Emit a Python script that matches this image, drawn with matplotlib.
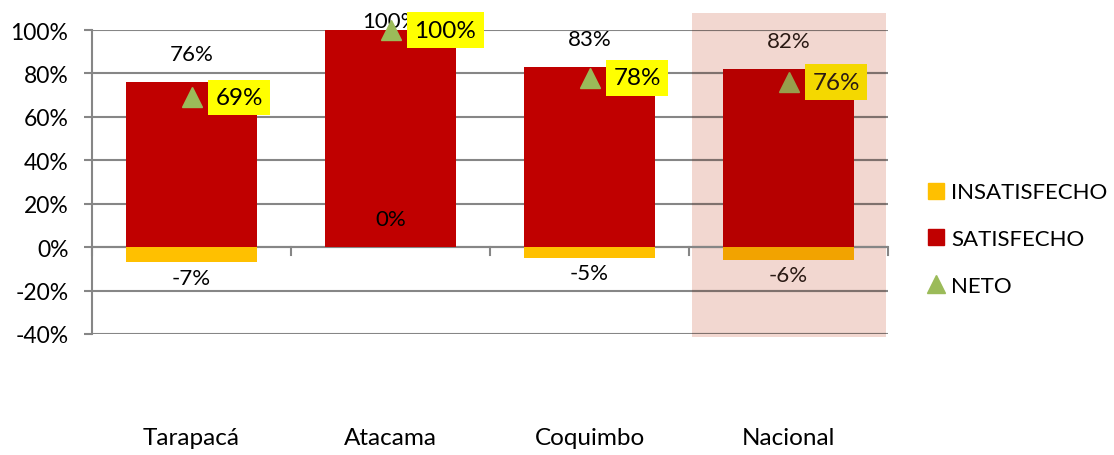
import matplotlib
matplotlib.use("Agg")
import matplotlib.pyplot as plt
from matplotlib.patches import Rectangle
from matplotlib.lines import Line2D

plt.rcParams['font.family'] = ['Lato', 'DejaVu Sans']

categories = ["Tarapacá", "Atacama", "Coquimbo", "Nacional"]
satisfecho = [76, 100, 83, 82]
insatisfecho = [-7, 0, -5, -6]
neto = [69, 100, 78, 76]
yticks = [-40, -20, 0, 20, 40, 60, 80, 100]

RED = "#C00000"
ORANGE = "#FFC000"
GREEN = "#9BBB59"
YELLOW = "#FFFF00"
GRID = "#868686"

# tinted versions used inside the highlighted "Nacional" column
BAND = "#F2D7D0"
RED_T = "#B60000"
ORANGE_T = "#F2A300"
GREEN_T = "#979E4C"
YELLOW_T = "#F4D800"
GRID_T = "#7F716D"
TEXT_T = "#2A1A14"

W, H, DPI = 1114, 456, 100
fig = plt.figure(figsize=(W / DPI, H / DPI), dpi=DPI)
ax = fig.add_axes([92 / W, (H - 335) / H, 796 / W, 304 / H])

x = list(range(len(categories)))
hl = len(categories) - 1  # highlighted column
ax.set_xlim(-0.5, len(categories) - 0.5)
ax.set_ylim(-40, 100)

# highlight band behind the national column
ax.add_patch(Rectangle((2.515, -41.4), 0.975, 149.2, facecolor=BAND,
                       edgecolor='none', zorder=0.1, clip_on=False))

# gridlines and axes
for s in ax.spines.values():
    s.set_visible(False)
ax.spines['left'].set_visible(True)
ax.spines['left'].set_color(GRID)
ax.spines['left'].set_linewidth(1.5)
ax.set_yticks(yticks)
ax.set_yticklabels([f"{v}%" for v in yticks], fontsize=16.5)
ax.tick_params(axis='y', length=6, width=1.5, color=GRID, pad=11)
ax.yaxis.grid(True, color=GRID, linewidth=1.5)
ax.set_axisbelow(True)
ax.hlines(yticks, 2.515, 3.49, color=GRID_T, linewidth=1.5, zorder=0.6)

ax.set_xticks(x)
ax.set_xticklabels(categories, fontsize=17.5)
ax.tick_params(axis='x', length=0, pad=67)

# horizontal axis at zero with category separators
ax.axhline(0, color=GRID, linewidth=1.5, zorder=1)
for b in [-0.5, 0.5, 1.5, 2.5, 3.5]:
    ax.plot([b, b], [0, -3.7], color=GRID, linewidth=1.5, zorder=1, clip_on=False)

bw = 0.66
red_c = [RED_T if i == hl else RED for i in x]
orange_c = [ORANGE_T if i == hl else ORANGE for i in x]
ax.bar(x, satisfecho, width=bw, color=red_c, zorder=2)
ax.bar(x, insatisfecho, width=bw, color=orange_c, zorder=2)

for xi, v in zip(x, satisfecho):
    ax.text(xi, min(v + 12.9, 104), f"{v}%", ha='center', va='center',
            fontsize=16, zorder=3, color=TEXT_T if xi == hl else 'black')
for xi, v in zip(x, insatisfecho):
    ly = v - 7 if v < 0 else v + 12.9
    ax.text(xi, ly, f"{v}%", ha='center', va='center', fontsize=16, zorder=3,
            color=TEXT_T if xi == hl else 'black')

for xi, v in zip(x, neto):
    ax.plot([xi], [v], linestyle='none', marker='^', markersize=14,
            color=GREEN_T if xi == hl else GREEN, zorder=4, clip_on=False)
    ax.annotate(f"{v}%", (xi, v), xytext=(24, 0), textcoords='offset pixels',
                ha='left', va='center', fontsize=17.5, zorder=5,
                color=TEXT_T if xi == hl else 'black',
                bbox=dict(boxstyle='square,pad=0.3',
                          facecolor=YELLOW_T if xi == hl else YELLOW,
                          edgecolor='none'))

handles = [
    Line2D([], [], linestyle='none', marker='s', markersize=11, color=ORANGE),
    Line2D([], [], linestyle='none', marker='s', markersize=11, color=RED),
    Line2D([], [], linestyle='none', marker='^', markersize=13, color=GREEN),
]
fig.legend(handles, ["INSATISFECHO", "SATISFECHO", "NETO"],
           loc='center left', bbox_to_anchor=(918 / W, 1 - 240 / H),
           frameon=False, fontsize=16, handlelength=0.8, handletextpad=0.3,
           labelspacing=1.2, borderaxespad=0)

fig.savefig("out.png", dpi=DPI)
